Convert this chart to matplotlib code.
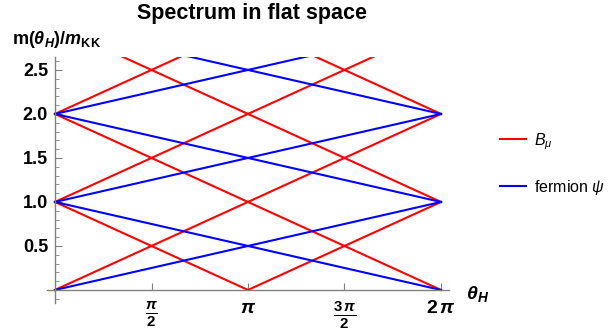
import numpy as np
import matplotlib
matplotlib.use('Agg')
import matplotlib.pyplot as plt
from matplotlib.ticker import MultipleLocator

plt.rcParams['font.family'] = ['Liberation Sans', 'DejaVu Sans']
plt.rcParams['mathtext.fontset'] = 'custom'
plt.rcParams['mathtext.rm'] = 'Liberation Sans'
plt.rcParams['mathtext.it'] = 'Liberation Sans:italic'
plt.rcParams['mathtext.bf'] = 'Liberation Sans:bold'
plt.rcParams['mathtext.bfit'] = 'Liberation Sans:bold:italic'

# theta_H nodes (0, pi/2, pi, 3pi/2, 2pi)
theta = np.array([0, 0.5, 1.0, 1.5, 2.0]) * np.pi

# B_mu modes: m/m_KK at each node
bmu_modes = [
    [0, 0.5, 1, 1.5, 2],
    [1, 1.5, 2, 2.5, 3],
    [2, 2.5, 3, 3.5, 4],
    [1, 0.5, 0, 0.5, 1],
    [2, 1.5, 1, 0.5, 0],
    [3, 2.5, 2, 1.5, 1],
    [4, 3.5, 3, 2.5, 2],
]
# fermion modes
psi_modes = [
    [0, 0.25, 0.5, 0.75, 1],
    [1, 1.25, 1.5, 1.75, 2],
    [2, 2.25, 2.5, 2.75, 3],
    [1, 0.75, 0.5, 0.25, 0],
    [2, 1.75, 1.5, 1.25, 1],
    [3, 2.75, 2.5, 2.25, 2],
]

xtick_pos = np.array([0.5, 1.0, 1.5, 2.0]) * np.pi
xtick_lbl = [r'$\mathbf{\frac{\mathbfit{\pi}}{2}}$', r'$\mathbfit{\pi}$',
             r'$\mathbf{\frac{3\,\mathbfit{\pi}}{2}}$', r'$\mathbf{2}\,\mathbfit{\pi}$']
ytick_pos = [0.5, 1.0, 1.5, 2.0, 2.5]

fig = plt.figure(figsize=(6.08, 3.34), dpi=100)
ax = fig.add_axes([47/608, 1 - 303/334, 402/608, 246/334])

for i, m in enumerate(bmu_modes):
    ax.plot(theta, m, color='#ff0000', lw=1.5, label=r'$B_\mu$' if i == 0 else None)
for i, m in enumerate(psi_modes):
    ax.plot(theta, m, color='#0000ff', lw=1.5, label=r'fermion $\psi$' if i == 0 else None)

dx = 8 / 386 * 2 * np.pi
ax.set_xlim(-dx, 2 * np.pi + dx)
ax.set_ylim(-0.148, 2.647)

for s in ['top', 'right']:
    ax.spines[s].set_visible(False)
ax.spines['left'].set_position(('data', 0))
ax.spines['bottom'].set_position(('data', 0))
for s in ['left', 'bottom']:
    ax.spines[s].set_color('#808080')
    ax.spines[s].set_linewidth(1.0)

ax.set_xticks(xtick_pos)
ax.set_xticklabels(xtick_lbl, fontsize=14)
# fractions come out small in mathtext, bump them up a bit
for lbl in (ax.get_xticklabels()[0], ax.get_xticklabels()[2]):
    lbl.set_fontsize(15.5)
ax.set_yticks(ytick_pos)
ax.set_yticklabels([f'{v:.1f}' for v in ytick_pos], fontsize=13, fontweight='bold')
ax.yaxis.set_minor_locator(MultipleLocator(0.1))
ax.tick_params(axis='y', which='major', direction='in', length=5, color='#808080', pad=5)
ax.tick_params(axis='y', which='minor', direction='in', length=3, color='#808080')
ax.tick_params(axis='x', which='major', direction='in', length=5, color='#808080', pad=7)

ax.text(6.69, -0.05, r'$\mathbfit{\theta}_{\mathbfit{H}}$', fontsize=14,
        ha='left', va='center', clip_on=False)
fig.text(0.02, 0.883, r'$\mathbf{m(}\mathbfit{\theta}_{\mathbfit{H}}\mathbf{)/}\mathbfit{m}_{\mathbf{KK}}$',
         fontsize=13, ha='left', va='center')
fig.text(252/608, 1 - 13/334, 'Spectrum in flat space', fontsize=15.5, fontweight='bold',
         ha='center', va='center')

fig.legend(loc='upper left', bbox_to_anchor=(500/608, 1 - 131/334), frameon=False,
           fontsize=11.5, handlelength=1.6, handletextpad=0.55, labelspacing=1.65,
           borderpad=0, borderaxespad=0)

fig.savefig('out.png', dpi=100)
plt.close(fig)
